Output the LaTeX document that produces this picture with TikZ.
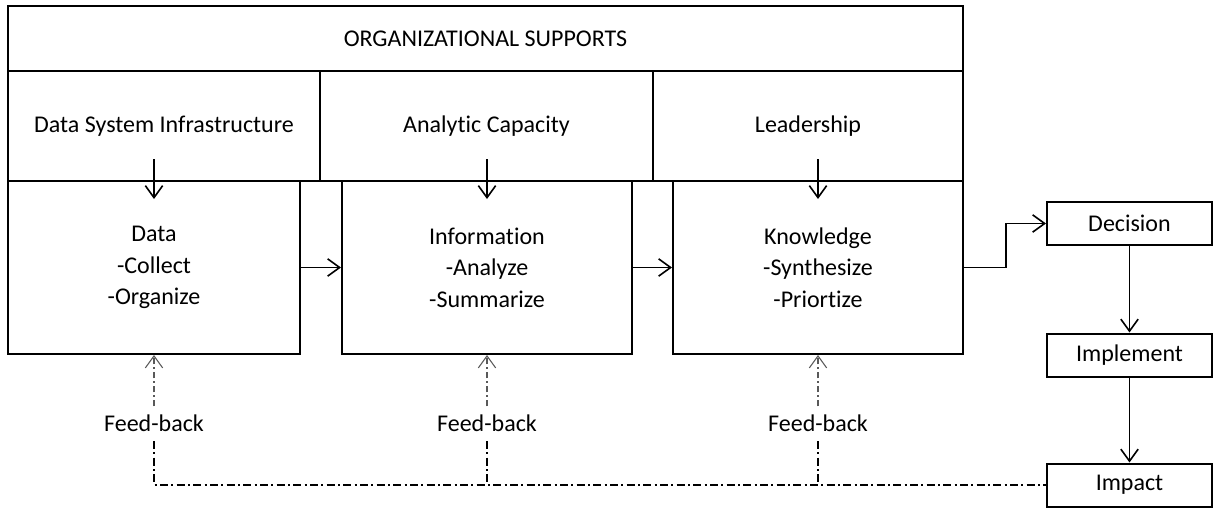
\documentclass[tikz,border=0pt]{standalone}
\usepackage{fontspec}
\setmainfont{Carlito}[Ligatures=NoCommon]
\usetikzlibrary{arrows.meta}

\begin{document}
\begin{tikzpicture}[
		x=0.75pt, y=-0.75pt,
		>={Straight Barb[length=9pt,width=13pt]},
		font=\fontsize{18}{23.5}\selectfont,
		line join=miter,
		box/.style={draw, line width=1.5pt, align=center, inner sep=0pt},
		cell/.style={box, minimum height=82.5pt},
		stagebox/.style={box, minimum width=218pt, minimum height=129.75pt},
		stepbox/.style={box, minimum width=123.75pt, minimum height=32.25pt},
		arr/.style={->, line width=1.2pt},
		fbtext/.style={inner sep=0pt},
		fbarrow/.style={->, line width=0.8pt, black!65, dash pattern=on 5pt off 2pt on 1.5pt off 2pt},
		fbline/.style={line width=1.2pt, dash pattern=on 6pt off 2.5pt on 1.5pt off 2.5pt}
		]
		\useasboundingbox (0,0) rectangle (1215,508);
		% supports frame
		\node[box, minimum width=716.25pt, minimum height=48.75pt] (sup) at (485.5,38.5) {ORGANIZATIONAL SUPPORTS};
		\node[cell, minimum width=234pt] (dsi) at (164,126) {Data System Infrastructure};
		\node[cell, minimum width=249.75pt] (anc) at (486.5,126) {Analytic Capacity};
		\node[cell, minimum width=232.5pt] (lead) at (808,126) {Leadership};
		% stages
		\node[stagebox, minimum width=219pt] (data) at (154,267.5) {Data\\-Collect\\-Organize};
		\node[stagebox, minimum width=217.5pt] (info) at (487,267.5) {Information\\-Analyze\\-Summarize};
		\node[stagebox, minimum width=217.5pt] (know) at (818,267.5) {Knowledge\\-Synthesize\\-Priortize};
		% outcome chain
		\node[stepbox] (dec) at (1129.5,223.5) {Decision};
		\node[stepbox] (impl) at (1129.5,355) {Implement};
		\node[stepbox] (imp) at (1129.5,485) {Impact};
		% feed-back labels
		\node[fbtext] (fb1) at (154,423) {Feed-back};
		\node[fbtext] (fb2) at (487,423) {Feed-back};
		\node[fbtext] (fb3) at (818,423) {Feed-back};
		\begin{scope}[arr]
		\draw ([yshift=15.75pt]data.north) -- ([yshift=-14.25pt]data.north);
		\draw ([yshift=15.75pt]info.north) -- ([yshift=-14.25pt]info.north);
		\draw ([yshift=15.75pt]know.north) -- ([yshift=-14.25pt]know.north);
		\draw (data.east) -- (info.west);
		\draw (info.east) -- (know.west);
		\draw (know.east) -- ++(42,0) |- (dec.west);
		\draw (dec.south) -- (impl.north);
		\draw (impl.south) -- (imp.north);
		\end{scope}
		\draw[fbarrow] ([yshift=6pt]fb1.north) -- (data.south);
		\draw[fbarrow] ([yshift=6pt]fb2.north) -- (info.south);
		\draw[fbarrow] ([yshift=6pt]fb3.north) -- (know.south);
		\draw[fbline] ([yshift=-7pt]fb1.south) |- (imp.west);
		\draw[fbline] ([yshift=-7pt]fb2.south) -- (fb2 |- imp.west);
		\draw[fbline] ([yshift=-7pt]fb3.south) -- (fb3 |- imp.west);
		\end{tikzpicture}
\end{document}
